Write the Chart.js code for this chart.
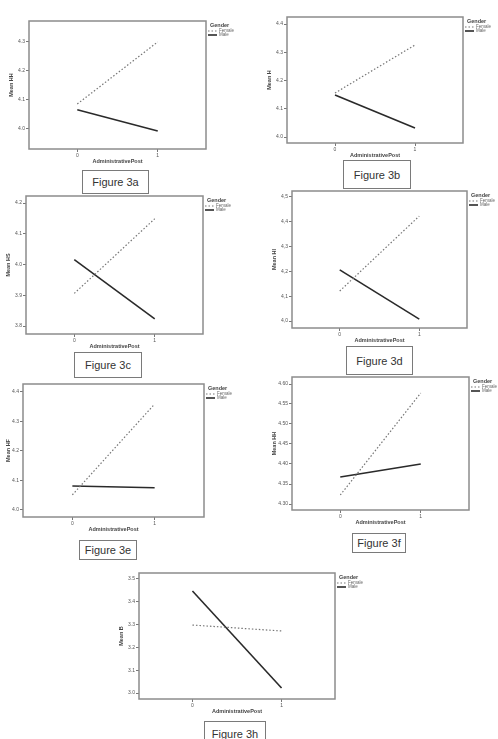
<!DOCTYPE html>
<html lang="en">
<head>
<meta charset="UTF-8">
<title>Figure 3</title>
<script src="https://cdn.jsdelivr.net/npm/chart.js@4.4.0/dist/chart.umd.min.js"></script>
<style>
body{margin:0;background:#fff;width:498px;height:739px;position:relative;overflow:hidden;font-family:"Liberation Sans",Arial,sans-serif}
canvas{position:absolute}
.cap{position:absolute;border:1px solid #7a7a7a;box-sizing:border-box;font-size:11px;color:#333;display:flex;align-items:center;justify-content:center;background:#fff}
</style>
</head>
<body>
<div class="cap" style="left:82px;top:170px;width:67px;height:24px">Figure 3a</div>
<div class="cap" style="left:343px;top:160px;width:68px;height:29px">Figure 3b</div>
<div class="cap" style="left:74px;top:352px;width:68px;height:26px">Figure 3c</div>
<div class="cap" style="left:346px;top:346px;width:67px;height:29px">Figure 3d</div>
<div class="cap" style="left:79px;top:540px;width:58px;height:20px">Figure 3e</div>
<div class="cap" style="left:352px;top:533px;width:54px;height:20px">Figure 3f</div>
<div class="cap" style="left:204px;top:721px;width:62px;height:26px">Figure 3h</div>

<script>
// administrative post (x) and the two gender series per figure
const xLabels = [0, 1];
const seriesNames = ['Female', 'Male'];

const femaleA = [4.086, 4.300];
const maleA   = [4.066, 3.993];
const ticksA  = [4.0, 4.1, 4.2, 4.3];

const femaleB = [4.156, 4.326];
const maleB   = [4.149, 4.032];
const ticksB  = [4.0, 4.1, 4.2, 4.3, 4.4];

const femaleC = [3.906, 4.149];
const maleC   = [4.016, 3.823];
const ticksC  = [3.8, 3.9, 4.0, 4.1, 4.2];

const femaleD = [4.121, 4.423];
const maleD   = [4.206, 4.008];
const ticksD  = [4.0, 4.1, 4.2, 4.3, 4.4, 4.5];

const femaleE = [4.051, 4.359];
const maleE   = [4.081, 4.075];
const ticksE  = [4.0, 4.1, 4.2, 4.3, 4.4];

const femaleF = [4.3225, 4.5775];
const maleF   = [4.3675, 4.400];
const ticksF  = [4.30, 4.35, 4.40, 4.45, 4.50, 4.55, 4.60];

const femaleH = [3.298, 3.272];
const maleH   = [3.447, 3.022];
const ticksH  = [3.0, 3.1, 3.2, 3.3, 3.4, 3.5];

// plot box [left, top, right, bottom] on the page + y range
const panels = [
  {box: [29, 21, 206, 149],  y: [3.931, 4.372], ticks: ticksA, dec: 1, sep: '.', title: 'Mean HH', f: femaleA, m: maleA},
  {box: [287, 17, 463, 143], y: [3.979, 4.425], ticks: ticksB, dec: 1, sep: '.', title: 'Mean H',  f: femaleB, m: maleB},
  {box: [26, 196, 203, 334], y: [3.774, 4.223], ticks: ticksC, dec: 1, sep: '.', title: 'Mean HS', f: femaleC, m: maleC},
  {box: [292, 191, 467, 328],y: [3.972, 4.524], ticks: ticksD, dec: 1, sep: ',', title: 'Mean HI', f: femaleD, m: maleD},
  {box: [23, 384, 204, 517], y: [3.976, 4.427], ticks: ticksE, dec: 1, sep: '.', title: 'Mean HF', f: femaleE, m: maleE},
  {box: [292, 377, 469, 510],y: [4.285, 4.6175],ticks: ticksF, dec: 2, sep: '.', title: 'Mean HH', f: femaleF, m: maleF},
  {box: [139, 573, 335, 699],y: [2.974, 3.526], ticks: ticksH, dec: 1, sep: '.', title: 'Mean B',  f: femaleH, m: maleH}
];

Chart.defaults.font.family = '"Liberation Sans", Arial, sans-serif';

const frameAndKey = {
  id: 'frameAndKey',
  afterDraw(chart) {
    const {ctx, chartArea: a} = chart;
    ctx.save();
    ctx.strokeStyle = '#8c8c8c';
    ctx.lineWidth = 1.5;
    ctx.strokeRect(a.left, a.top, a.right - a.left, a.bottom - a.top);
    const x = a.right + 2, y = a.top + 4;
    ctx.textBaseline = 'middle';
    ctx.font = 'bold 5.5px "Liberation Sans"';
    ctx.fillStyle = '#444';
    ctx.fillText('Gender', x + 2, y);
    chart.data.datasets.forEach((ds, i) => {
      const yy = y + 6 + i * 4;
      ctx.beginPath();
      ctx.setLineDash(ds.borderDash || []);
      ctx.strokeStyle = ds.borderColor;
      ctx.lineWidth = ds.borderWidth;
      ctx.moveTo(x, yy);
      ctx.lineTo(x + 9, yy);
      ctx.stroke();
      ctx.setLineDash([]);
      ctx.font = '4.5px "Liberation Sans"';
      ctx.fillStyle = '#666';
      ctx.fillText(ds.label, x + 11, yy);
    });
    ctx.restore();
  }
};

panels.forEach(p => {
  const [l, t, r, b] = p.box;
  const left = Math.max(0, l - 26), top = t - 5;
  const w = r - left + 36, h = b - top + 16;
  const cv = document.createElement('canvas');
  cv.width = w; cv.height = h;
  cv.style.left = left + 'px'; cv.style.top = top + 'px';
  document.body.appendChild(cv);

  const pts = vals => vals.map((v, i) => ({x: xLabels[i], y: v}));

  new Chart(cv, {
    type: 'line',
    data: {
      datasets: [
        {label: seriesNames[0], data: pts(p.f), borderColor: '#767676', borderWidth: 1.2, borderDash: [1.5, 2], pointRadius: 0, fill: false},
        {label: seriesNames[1], data: pts(p.m), borderColor: '#2a2a2a', borderWidth: 1.6, pointRadius: 0, fill: false}
      ]
    },
    options: {
      responsive: false,
      animation: false,
      layout: {padding: {left: 0, top: t - top, right: 36, bottom: 0}},
      plugins: {legend: {display: false}, tooltip: {enabled: false}},
      scales: {
        x: {
          type: 'linear', min: -0.6, max: 1.6,
          afterBuildTicks: s => { s.ticks = xLabels.map(v => ({value: v})); },
          afterFit: s => { s.height = 16; },
          grid: {drawOnChartArea: false, tickLength: 3, color: '#777'},
          border: {display: false},
          ticks: {font: {size: 5}, color: '#555', padding: 1, callback: v => String(v)},
          title: {display: true, text: 'AdministrativePost', font: {size: 5.5, weight: 'bold'}, color: '#444', padding: {top: 1, bottom: 0}}
        },
        y: {
          min: p.y[0], max: p.y[1],
          afterBuildTicks: s => { s.ticks = p.ticks.map(v => ({value: v})); },
          afterFit: s => { s.width = l - left; },
          grid: {drawOnChartArea: false, tickLength: 3, color: '#777'},
          border: {display: false},
          ticks: {font: {size: 5}, color: '#555', padding: 1, callback: v => v.toFixed(p.dec).replace('.', p.sep)},
          title: {display: true, text: p.title, font: {size: 5.5, weight: 'bold'}, color: '#444', padding: {top: 5, bottom: 0}}
        }
      }
    },
    plugins: [frameAndKey]
  });
});
</script>
</body>
</html>
